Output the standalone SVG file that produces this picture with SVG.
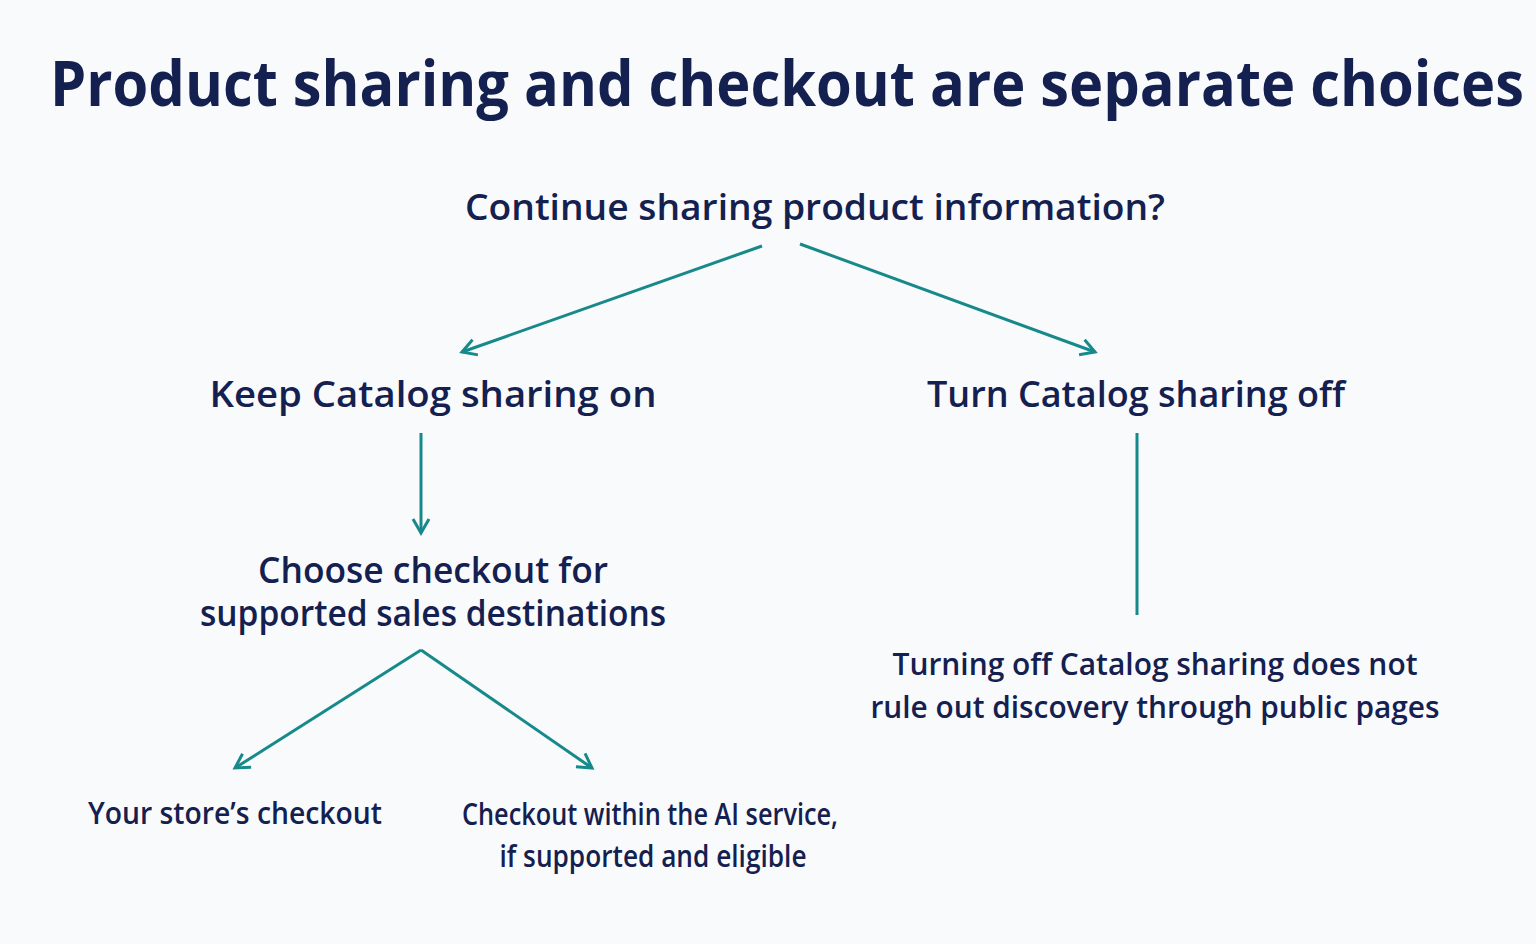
<svg xmlns="http://www.w3.org/2000/svg" width="1536" height="944" viewBox="0 0 1536 944">
<defs>
<style>
text{font-family:"Open Sans","Noto Sans","Liberation Sans",sans-serif;fill:#14204f;text-anchor:middle;font-weight:600}
.t{font-weight:700;font-size:62px}
.n{font-size:36px}
.s{font-size:31px}
.c{stroke:#17898a;stroke-width:3;fill:none}
</style>
<marker id="a" viewBox="0 0 20 20" refX="17" refY="10" markerWidth="20" markerHeight="20" markerUnits="userSpaceOnUse" orient="auto"><path d="M3,2 L17,10 L3,18" fill="none" stroke="#17898a" stroke-width="3"/></marker>
</defs>
<rect width="1536" height="944" fill="#f9fafc"/>
<text class="t" x="787" y="106" textLength="1474" lengthAdjust="spacingAndGlyphs">Product sharing and checkout are separate choices</text>
<g id="connectors">
<line class="c" x1="762" y1="246" x2="462" y2="352" marker-end="url(#a)"/>
<line class="c" x1="800" y1="244" x2="1095" y2="352" marker-end="url(#a)"/>
<line class="c" x1="421" y1="433" x2="421" y2="533" marker-end="url(#a)"/>
<line class="c" x1="1137" y1="433" x2="1137" y2="615"/>
<line class="c" x1="421" y1="650" x2="235" y2="768" marker-end="url(#a)"/>
<line class="c" x1="421" y1="650" x2="592" y2="768" marker-end="url(#a)"/>
</g>
<g id="q"><text class="n" x="815" y="220" textLength="700" lengthAdjust="spacingAndGlyphs">Continue sharing product information?</text></g>
<g id="keep"><text class="n" x="433" y="407" textLength="447" lengthAdjust="spacingAndGlyphs">Keep Catalog sharing on</text></g>
<g id="off"><text class="n" x="1136" y="407" textLength="418" lengthAdjust="spacingAndGlyphs">Turn Catalog sharing off</text></g>
<g id="choose"><text class="n" x="433" y="583" textLength="350" lengthAdjust="spacingAndGlyphs">Choose checkout for</text>
<text class="n" x="433" y="626" textLength="466" lengthAdjust="spacingAndGlyphs">supported sales destinations</text></g>
<g id="note"><text class="s" x="1155" y="675" textLength="525" lengthAdjust="spacingAndGlyphs">Turning off Catalog sharing does not</text>
<text class="s" x="1155" y="718" textLength="569" lengthAdjust="spacingAndGlyphs">rule out discovery through public pages</text></g>
<g id="store"><text class="s" x="235" y="824" textLength="294" lengthAdjust="spacingAndGlyphs">Your store’s checkout</text></g>
<g id="ai"><text class="s" x="650" y="825" textLength="376" lengthAdjust="spacingAndGlyphs">Checkout within the AI service,</text>
<text class="s" x="653" y="867" textLength="307" lengthAdjust="spacingAndGlyphs">if supported and eligible</text></g>
</svg>
